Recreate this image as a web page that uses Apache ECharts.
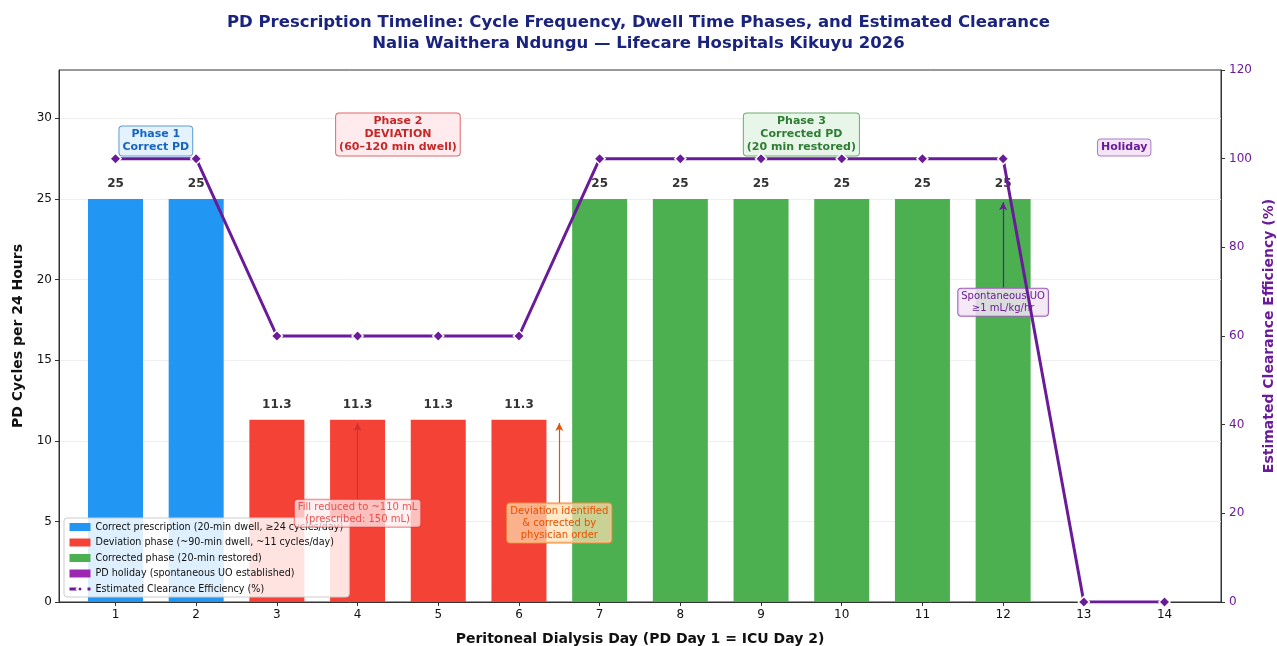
<!DOCTYPE html>
<html>
<head>
<meta charset="utf-8">
<script src="https://cdn.jsdelivr.net/npm/echarts@6/dist/echarts.min.js"></script>
<style>
  html, body { margin: 0; padding: 0; background: #fff; }
  #chart { width: 1277px; height: 646px; }
</style>
</head>
<body>
<div id="chart"></div>
<script>
// PD day number, cycles per 24 h, phase of each day and estimated clearance (%)
const days = [1, 2, 3, 4, 5, 6, 7, 8, 9, 10, 11, 12, 13, 14];
const cycles = [25, 25, 11.3, 11.3, 11.3, 11.3, 25, 25, 25, 25, 25, 25, 0, 0];
const phases = ['correct', 'correct', 'deviation', 'deviation', 'deviation', 'deviation',
  'corrected', 'corrected', 'corrected', 'corrected', 'corrected', 'corrected', 'holiday', 'holiday'];
const efficiency = [100, 100, 60, 60, 60, 60, 100, 100, 100, 100, 100, 100, 0, 0];
const leftTicks = [0, 5, 10, 15, 20, 25, 30];
const rightTicks = [0, 20, 40, 60, 80, 100, 120];

const FONT = 'DejaVu Sans';
const PURPLE = '#6a1b9a';

const phaseSeries = [
  { key: 'correct', name: 'Correct prescription (20-min dwell, \u226524 cycles/day)', color: '#2196F3' },
  { key: 'deviation', name: 'Deviation phase (~90-min dwell, ~11 cycles/day)', color: '#F44336' },
  { key: 'corrected', name: 'Corrected phase (20-min restored)', color: '#4CAF50' },
  { key: 'holiday', name: 'PD holiday (spontaneous UO established)', color: '#9C27B0' }
];
const lineName = 'Estimated Clearance Efficiency (%)';

// Text boxes placed in data units (day, cycles)
function box(x, y, text, color, bg, border, bold, size) {
  return {
    coord: [x, y],
    symbol: 'circle', symbolSize: 1,
    itemStyle: { color: 'rgba(0,0,0,0)' },
    label: {
      show: true, position: 'inside', formatter: text,
      color: color, fontFamily: FONT, fontSize: size || 11,
      fontWeight: bold ? 'bold' : 'normal', lineHeight: (size || 11) + 2,
      backgroundColor: bg, borderColor: border, borderWidth: 1, borderRadius: 3,
      padding: [2, 3, 1, 3], align: 'center', verticalAlign: 'middle'
    }
  };
}
function arrow(x, y0, y1, color) {
  return [
    { coord: [x, y0], lineStyle: { color: color, width: 1.2, type: 'solid' } },
    { coord: [x, y1] }
  ];
}

const barSeries = phaseSeries.map(function (p, idx) {
  const data = [];
  days.forEach(function (d, i) {
    if (phases[i] === p.key) data.push([d, cycles[i]]);
  });
  const s = {
    name: p.name,
    type: 'bar',
    data: data,
    barWidth: 55,
    barGap: '-100%',
    itemStyle: { color: p.color },
    label: {
      show: p.key !== 'holiday', position: 'top', distance: 9,
      fontFamily: FONT, fontSize: 12, fontWeight: 'bold', color: '#333',
      formatter: function (v) { return String(v.value[1]); }
    },
    z: 2
  };
  if (idx === 0) {
    s.markPoint = {
      silent: true, animation: false, z: 5,
      data: [
        box(1.5, 28.6, 'Phase 1\nCorrect PD', '#1565C0', '#E3F2FD', '#5C9BD6', true, 11),
        box(4.5, 29.0, 'Phase 2\nDEVIATION\n(60\u2013120 min dwell)', '#C62828', '#FFEBEE', '#E06666', true, 11),
        box(9.5, 29.0, 'Phase 3\nCorrected PD\n(20 min restored)', '#2E7D32', '#E8F5E9', '#6DAA6F', true, 11),
        box(13.5, 28.2, 'Holiday', PURPLE, '#F3E5F5', '#AB7BC6', true, 11),
        box(4, 5.5, 'Fill reduced to ~110 mL\n(prescribed: 150 mL)', 'rgba(229,57,53,0.85)', 'rgba(255,235,238,0.75)', 'rgba(229,57,53,0.6)', false, 10),
        box(6.5, 4.9, 'Deviation identified\n& corrected by\nphysician order', '#E65100', 'rgba(255,224,178,0.7)', '#EF8A3C', false, 10),
        box(12, 18.6, 'Spontaneous UO\n\u22651 mL/kg/hr', PURPLE, 'rgba(243,229,245,0.85)', '#9C5FB8', false, 10)
      ]
    };
    s.markLine = {
      silent: true, animation: false, z: 4,
      symbol: ['none', 'arrow'], symbolSize: [6, 8],
      label: { show: false },
      data: [
        arrow(4, 6.3, 11.1, '#D32F2F'),
        arrow(6.5, 6.1, 11.1, '#E65100'),
        arrow(12, 19.5, 24.8, PURPLE)
      ]
    };
  }
  return s;
});

const lineSeries = {
  name: lineName,
  type: 'line',
  yAxisIndex: 1,
  data: days.map(function (d, i) { return [d, efficiency[i]]; }),
  symbol: 'diamond',
  symbolSize: 11,
  lineStyle: { color: PURPLE, width: 3 },
  itemStyle: { color: PURPLE, borderColor: '#fff', borderWidth: 1.5 },
  z: 6
};

const chart = echarts.init(document.getElementById('chart'), null, { renderer: 'canvas' });
chart.setOption({
  animation: false,
  textStyle: { fontFamily: FONT },
  title: {
    text: 'PD Prescription Timeline: Cycle Frequency, Dwell Time Phases, and Estimated Clearance\nNalia Waithera Ndungu \u2014 Lifecare Hospitals Kikuyu 2026',
    left: 'center', top: 7,
    textStyle: { fontFamily: FONT, fontSize: 16.5, fontWeight: 'bold', color: '#1A237E', lineHeight: 21 }
  },
  grid: {
    left: 59, right: 56, top: 70, bottom: 44,
    outerBoundsMode: 'none', containLabel: false,
    show: true, borderColor: '#333', borderWidth: 1, backgroundColor: 'transparent'
  },
  legend: {
    orient: 'vertical', left: 64, top: 518,
    backgroundColor: 'rgba(255,255,255,0.85)', borderColor: '#ccc', borderWidth: 1, borderRadius: 3,
    padding: [4, 6, 3, 4], itemGap: 5.5, itemWidth: 21, itemHeight: 8,
    textStyle: { fontFamily: FONT, fontSize: 9.6, color: '#111' },
    data: phaseSeries.map(function (p) { return { name: p.name, icon: 'rect' }; })
      .concat([{ name: lineName, lineStyle: { type: 'dashed', width: 3 } }])
  },
  xAxis: {
    type: 'value', min: 0.3, max: 14.7,
    name: 'Peritoneal Dialysis Day (PD Day 1 = ICU Day 2)',
    nameLocation: 'middle', nameGap: 30,
    nameTextStyle: { fontFamily: FONT, fontSize: 14, fontWeight: 'bold', color: '#111' },
    axisLine: { show: true, lineStyle: { color: '#333' } },
    axisTick: { show: true, customValues: days, length: 4, lineStyle: { color: '#333' } },
    axisLabel: { customValues: days, color: '#111', fontSize: 12, margin: 7 },
    splitLine: { show: false }
  },
  yAxis: [
    {
      type: 'value', min: 0, max: 33,
      name: 'PD Cycles per 24 Hours', nameLocation: 'middle', nameGap: 31,
      nameTextStyle: { fontFamily: FONT, fontSize: 14, fontWeight: 'bold', color: '#111' },
      axisLine: { show: true, lineStyle: { color: '#333' } },
      axisTick: { show: true, customValues: leftTicks, length: 4, lineStyle: { color: '#333' } },
      axisLabel: { customValues: leftTicks, color: '#111', fontSize: 12, margin: 7 },
      splitLine: { show: true, lineStyle: { color: '#eee', width: 1 } }
    },
    {
      type: 'value', min: 0, max: 120, position: 'right',
      name: 'Estimated Clearance Efficiency (%)', nameLocation: 'middle', nameGap: 30,
      nameRotate: 90,
      nameTextStyle: { fontFamily: FONT, fontSize: 14, fontWeight: 'bold', color: PURPLE },
      axisLine: { show: true, lineStyle: { color: '#333' } },
      axisTick: { show: true, customValues: rightTicks, length: 4, lineStyle: { color: '#333' } },
      axisLabel: { customValues: rightTicks, color: PURPLE, fontSize: 12, margin: 8 },
      splitLine: { show: false }
    }
  ],
  series: barSeries.concat([lineSeries])
});
</script>
</body>
</html>
